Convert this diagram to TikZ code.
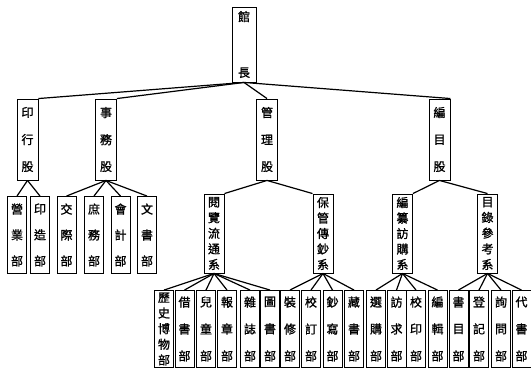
\documentclass[tikz,border=0pt]{standalone}
\usepackage{fontspec}
\newfontfamily\cjk[FakeBold=1.2]{Noto Sans CJK TC}
\makeatletter
\newcommand\vtext[2]{\vbox to #1{\offinterlineskip\let\vt@sep\relax\@tfor\vt@c:=#2\do{\vt@sep\hbox to 12pt{\hss\vt@c\hss}\let\vt@sep\vfil}}}
\makeatother
\begin{document}
\begin{tikzpicture}[x=1pt,y=-1pt,
  box/.style={draw, line width=0.9pt, rectangle, inner sep=0pt, font=\cjk\fontsize{12}{12}\selectfont},
  topbox/.style={box, minimum width=24pt, minimum height=75pt},
  gubox/.style={box, minimum width=21pt, minimum height=81pt},
  xibox/.style={box, minimum width=20pt, minimum height=79pt},
  bubox/.style={box, minimum width=19pt, minimum height=77pt},
  link/.style={line width=1.2pt}]
\useasboundingbox (0,0) rectangle (531,371);
% top
\node[topbox] (top) at (244,44.5) {\vtext{66pt}{館長}};
% level 1
\node[gubox] (yin) at (27.5,139.5) {\vtext{64pt}{印行股}};
\node[gubox] (shi) at (106,139.5) {\vtext{64pt}{事務股}};
\node[gubox] (guan) at (267,139.5) {\vtext{64pt}{管理股}};
\node[gubox] (bian) at (439.5,139.5) {\vtext{64pt}{編目股}};
% level 2 under 印行股 and 事務股
\node[bubox] (yy) at (17,235) {\vtext{62pt}{營業部}};
\node[bubox] (yz) at (40,235) {\vtext{62pt}{印造部}};
\node[bubox] (jj) at (66.5,235) {\vtext{62pt}{交際部}};
\node[bubox] (sw) at (94,235) {\vtext{62pt}{庶務部}};
\node[bubox] (kj) at (120.5,235) {\vtext{62pt}{會計部}};
\node[bubox] (ws) at (147,235) {\vtext{62pt}{文書部}};
% level 2 series
\node[xibox] (yl) at (214,233.5) {\vtext{72pt}{閱覽流通系}};
\node[xibox] (bg) at (323,233.5) {\vtext{72pt}{保管傳鈔系}};
\node[xibox] (bz) at (402.5,233.5) {\vtext{72pt}{編纂訪購系}};
\node[xibox] (ml) at (487.5,233.5) {\vtext{72pt}{目錄參考系}};
% level 3
\node[bubox] (a1) at (164,329) {\vtext{72pt}{歷史博物部}};
\node[bubox] (a2) at (184.5,329) {\vtext{64pt}{借書部}};
\node[bubox] (a3) at (206,329) {\vtext{64pt}{兒童部}};
\node[bubox] (a4) at (227,329) {\vtext{64pt}{報章部}};
\node[bubox] (a5) at (250,329) {\vtext{64pt}{雜誌部}};
\node[bubox] (a6) at (270,329) {\vtext{64pt}{圖書部}};
\node[bubox] (b1) at (290,329) {\vtext{64pt}{裝修部}};
\node[bubox] (b2) at (311,329) {\vtext{64pt}{校訂部}};
\node[bubox] (b3) at (332.5,329) {\vtext{64pt}{鈔寫部}};
\node[bubox] (b4) at (354,329) {\vtext{64pt}{藏書部}};
\node[bubox] (c1) at (376,329) {\vtext{64pt}{選購部}};
\node[bubox] (c2) at (396.5,329) {\vtext{64pt}{訪求部}};
\node[bubox] (c3) at (416,329) {\vtext{64pt}{校印部}};
\node[bubox] (c4) at (437.5,329) {\vtext{64pt}{編輯部}};
\node[bubox] (d1) at (458.5,329) {\vtext{64pt}{書目部}};
\node[bubox] (d2) at (479,329) {\vtext{64pt}{登記部}};
\node[bubox] (d3) at (501,329) {\vtext{64pt}{詢問部}};
\node[bubox] (d4) at (521.5,329) {\vtext{64pt}{代書部}};
% connectors
\draw[link] (top.south) -- (yin.north east);
\draw[link] (top.south) -- (shi.north east);
\draw[link] (top.south) -- (guan.north);
\draw[link] (top.south) -- (bian.north east);
\foreach \c in {yy,yz} \draw[link] (yin.south) -- (\c.north);
\foreach \c in {jj,sw,kj,ws} \draw[link] (shi.south) -- (\c.north);
\draw[link] (guan.south) -- (yl.north east);
\draw[link] (guan.south) -- (bg.north west);
\draw[link] (bian.south) -- (bz.north east);
\draw[link] (bian.south) -- (ml.north);
\foreach \c in {a1,a2,a3,a4,a5,a6} \draw[link] (yl.south) -- (\c.north);
\foreach \c in {b1,b2,b3,b4} \draw[link] (bg.south) -- (\c.north);
\foreach \c in {c1,c2,c3,c4} \draw[link] (bz.south) -- (\c.north);
\foreach \c in {d1,d2,d3,d4} \draw[link] (ml.south) -- (\c.north);
\end{tikzpicture}
\end{document}
